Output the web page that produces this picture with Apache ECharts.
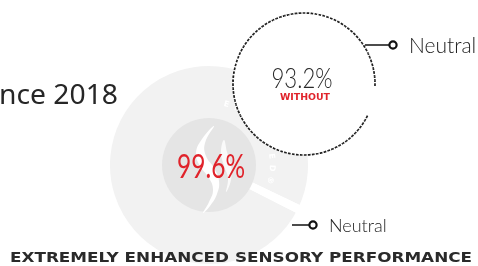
<!DOCTYPE html>
<html>
<head>
<meta charset="utf-8">
<script src="https://cdn.jsdelivr.net/npm/echarts@6/dist/echarts.min.js"></script>
<style>
  html, body { margin: 0; padding: 0; background: #fff; }
  #chart { width: 478px; height: 266px; }
</style>
</head>
<body>
<div id="chart"></div>
<script>
// values
const scaleMax = 100
const withValue = 99.6
const withoutValue = 93.2
const withoutTag = 'WITHOUT'
const topLabel = 'Neutral'
const bottomLabel = 'Neutral'
const ringWord = 'ENHANCED®'
const sideTitle = 'nce 2018'
const bottomTitle = 'EXTREMELY ENHANCED SENSORY PERFORMANCE'

const chart = echarts.init(document.getElementById('chart'))

const bigC = [209, 165]
const dashC = [304, 84]
const dashR = 71
const gaugeStart = -26.5

// dash period chosen so the forward and return pass of the outline line up
const arcLen = dashR * (withoutValue / scaleMax) * 2 * Math.PI
const dashN = Math.round(arcLen * 2 / 4)
const dashP = arcLen * 2 / dashN

const measure = document.createElement('canvas').getContext('2d')
function fitScale(text, font, width) {
  measure.font = font
  return width / measure.measureText(text).width
}

function txt(opt) {
  return {
    type: 'text', z: opt.z || 10, x: opt.x, y: opt.y,
    scaleX: opt.sx || 1, scaleY: opt.sy || 1, rotation: opt.rot || 0,
    style: {
      text: opt.text, fill: opt.fill || '#222', font: opt.font,
      align: opt.align || 'left', textAlign: opt.align || 'left',
      verticalAlign: 'middle', textVerticalAlign: 'middle', opacity: opt.opacity == null ? 1 : opt.opacity
    }
  }
}

const fontBig = '32px Lato'
const fontMid = '300 27px Lato'
const fontTag = 'bold 8px "DejaVu Sans"'
const fontTitle = 'bold 14px "DejaVu Sans"'

const ringText = ringWord.split('').map((ch, i) => {
  const a = (74 - i * 11) * Math.PI / 180
  return txt({
    z: 3, x: bigC[0] + 63 * Math.cos(a), y: bigC[1] - 63 * Math.sin(a),
    rot: a - Math.PI / 2, text: ch, fill: '#fff', font: 'bold 8px "DejaVu Sans"', align: 'center'
  })
})

const graphics = [
  { type: 'circle', z: 3, shape: { cx: bigC[0], cy: bigC[1], r: 47 }, style: { fill: '#e5e5e5' } },
  {
    type: 'polygon', z: 4,
    shape: {
      smooth: 0.45,
      points: [[214, 126], [202, 139], [196, 153], [200, 166], [209, 178], [213, 190], [209, 202], [203, 213],
        [210, 206], [217, 194], [219, 181], [214, 168], [206, 156], [205, 143]]
    },
    style: { fill: '#fff' }
  },
  {
    type: 'polygon', z: 4,
    shape: {
      smooth: 0.45,
      points: [[224, 140], [221, 152], [224, 166], [228, 178], [226, 192], [231, 180], [231, 165], [227, 152]]
    },
    style: { fill: '#fff', opacity: 0.8 }
  },
  ...ringText,
  txt({ z: 5, x: 211, y: 168, text: withValue + '%', fill: '#e0232b', font: fontBig, align: 'center',
    sx: fitScale(withValue + '%', fontBig, 68) }),
  txt({ x: 302, y: 79, text: withoutValue + '%', fill: '#2a2a2a', font: fontMid, align: 'center',
    sx: fitScale(withoutValue + '%', fontMid, 61) }),
  txt({ x: 305, y: 98, text: withoutTag, fill: '#e0232b', font: fontTag, align: 'center',
    sx: fitScale(withoutTag, fontTag, 50) }),

  { type: 'line', z: 10, shape: { x1: 365, y1: 45, x2: 389, y2: 45 }, style: { stroke: '#111', lineWidth: 1.5 } },
  { type: 'circle', z: 10, shape: { cx: 393, cy: 45, r: 3.6 }, style: { fill: '#fff', stroke: '#111', lineWidth: 2.2 } },
  txt({ x: 409, y: 46, text: topLabel, fill: '#222', font: '300 21px Lato' }),

  { type: 'line', z: 10, shape: { x1: 292, y1: 225, x2: 309, y2: 225 }, style: { stroke: '#111', lineWidth: 1.5 } },
  { type: 'circle', z: 10, shape: { cx: 313, cy: 225, r: 3.6 }, style: { fill: '#fff', stroke: '#111', lineWidth: 2.2 } },
  txt({ x: 329, y: 226, text: bottomLabel, fill: '#222', font: '300 18px Lato' }),

  txt({ x: -1, y: 96, text: sideTitle, fill: '#262626', font: '28px "Noto Sans"',
    sx: fitScale(sideTitle, '28px "Noto Sans"', 119) }),
  txt({ x: 241, y: 258, text: bottomTitle, fill: '#2a2a2a', font: fontTitle, align: 'center',
    sx: fitScale(bottomTitle, fontTitle, 462) })
]

chart.setOption({
  animation: false,
  graphic: { elements: graphics },
  series: [
    {
      type: 'pie',
      z: 2,
      silent: true,
      center: bigC,
      radius: [0, 102],
      startAngle: -27,
      clockwise: true,
      label: { show: false },
      labelLine: { show: false },
      itemStyle: { borderColor: '#fff', borderWidth: 6 },
      data: [
        { value: withValue, itemStyle: { color: '#f2f2f2' } },
        { value: scaleMax - withValue, itemStyle: { color: '#fff' } }
      ]
    },
    {
      type: 'gauge',
      z: 6,
      silent: true,
      center: dashC,
      radius: dashR,
      startAngle: gaugeStart,
      endAngle: gaugeStart - 360,
      min: 0,
      max: scaleMax,
      axisLine: { show: true, lineStyle: { width: dashR, color: [[1, '#fff']] } },
      progress: {
        show: true,
        width: 0,
        itemStyle: { color: 'none', borderColor: '#1e1e1e', borderWidth: 1.7, borderType: [1.35, dashP - 1.35] }
      },
      pointer: { show: false },
      anchor: { show: false },
      axisTick: { show: false },
      splitLine: { show: false },
      axisLabel: { show: false },
      title: { show: false },
      detail: { show: false },
      data: [{ value: withoutValue }]
    }
  ]
})
</script>
</body>
</html>
